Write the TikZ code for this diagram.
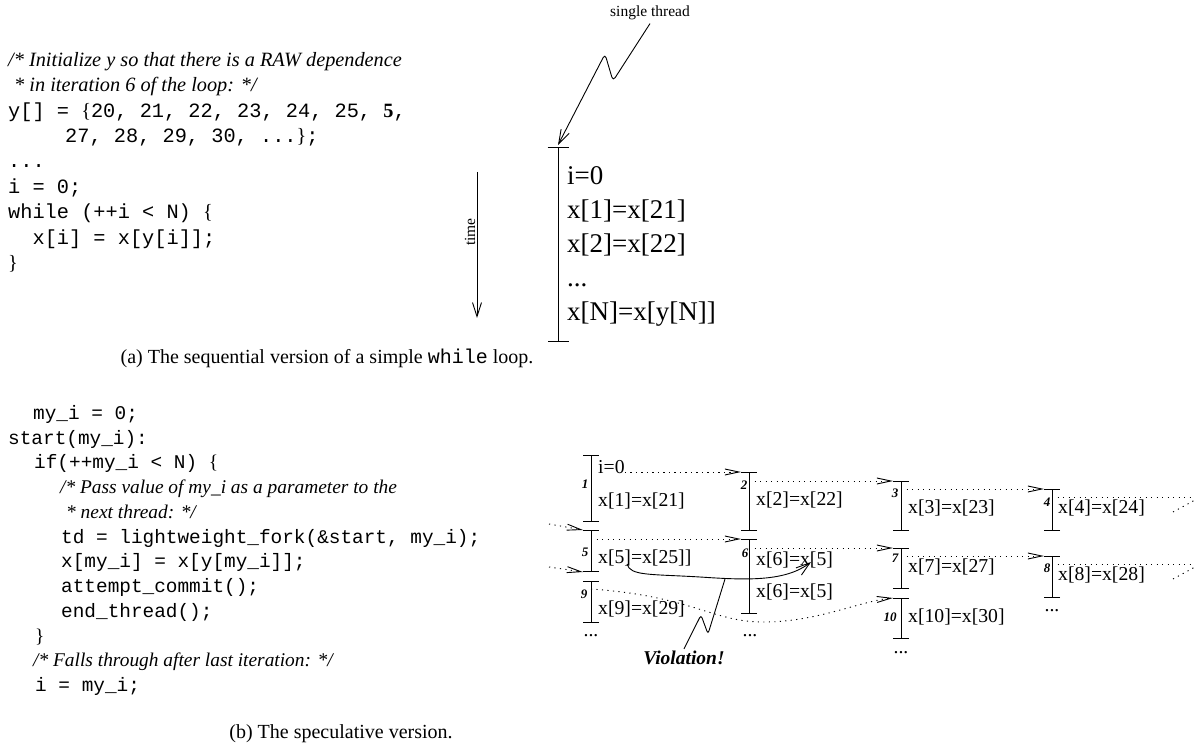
\documentclass[tikz,border=0pt]{standalone}
\usepackage{fontspec}
\setmainfont{Liberation Serif}
\setmonofont{Liberation Mono}
\usetikzlibrary{positioning,calc,arrows.meta}

\newcommand\tightlines{\lineskiplimit-30pt\relax}
\newcommand\lbr{{\rmfamily\{}}
\newcommand\rbr{{\rmfamily\}}}

\tikzset{
	codeA/.style={inner sep=0pt, anchor=north west, align=left,
		font=\fontsize{20.3}{25.4}\selectfont\tightlines},
	codeB/.style={inner sep=0pt, anchor=north west, align=left,
		font=\fontsize{19.4}{24.75}\selectfont\tightlines},
	capt/.style={inner sep=0pt, font=\fontsize{20}{24}\selectfont},
	smalllab/.style={font=\fontsize{15.5}{18}\selectfont},
	bigbar/.style={line width=0.9pt, {Bar[width=21pt]}-{Bar[width=21pt]}},
	bar/.style={line width=0.9pt, {Bar[width=16pt]}-{Bar[width=16pt]}},
	bigstmt/.style={inner sep=0pt, anchor=north west, align=left,
		font=\fontsize{27}{34.2}\selectfont\tightlines},
	stmt/.style={inner sep=0pt, anchor=west, font=\fontsize{19.7}{22}\selectfont},
	tnum/.style={inner sep=0pt, font=\fontsize{13}{13}\selectfont\bfseries\itshape},
	fork/.style={line width=0.9pt, dash pattern=on 1.2pt off 4.3pt,
		-{Straight Barb[length=14pt,width=6pt]}},
	forkend/.style={line width=0.9pt, dash pattern=on 1.2pt off 4.3pt},
	openarrow/.style={line width=0.9pt, -{Straight Barb[length=14pt,width=9pt]}},
	violab/.style={inner sep=2pt, font=\fontsize{19.5}{22}\selectfont\bfseries\itshape},
}

\begin{document}
\begin{tikzpicture}[x=1pt,y=-1pt]
	\useasboundingbox (0,0) rectangle (1195,746);

	% (a) sequential loop
	\node[codeA] (seqcode) at (8,52) {%
		{\itshape /* Initialize y so that there is a RAW dependence}\\
		{\itshape\hspace*{6pt}* in iteration 6 of the loop: */}\\
		{\ttfamily y[] = \lbr20, 21, 22, 23, 24, 25, {\rmfamily\bfseries 5},}\\
		{\ttfamily\hspace*{57pt}27, 28, 29, 30, ...\rbr;}\\
		{\ttfamily ...}\\
		{\ttfamily i = 0;}\\
		{\ttfamily while (++i < N) \lbr}\\
		{\ttfamily\hspace*{24.4pt}x[i] = x[y[i]];}\\
		{\ttfamily \rbr}
	};

	\coordinate (timetop) at (477,172);
	\coordinate (timebot) at (477,318);
	\draw[openarrow] (timetop) -- (timebot);
	\node[smalllab, rotate=90] (timelab) at (470,232) {time};

	\node[smalllab] (sthread) at (650,13) {single thread};
	\coordinate (st1) at (558,147);
	\coordinate (st2) at (558,342);
	\draw[bigbar] (st1) -- (st2);
	\draw[openarrow, rounded corners=4pt] (sthread.south) -- (613,81) -- (605,54) -- ($(st1)+(0,-2)$);
	\node[bigstmt] (seqsteps) at (567,166) {i=0\\ x[1]=x[21]\\ x[2]=x[22]\\ ...\\ x[N]=x[y[N]]};

	\node[capt] (capa) at (327,358) {(a) The sequential version of a simple \texttt{while} loop.};

	% (b) speculative loop
	\node[codeB] (speccode) at (8,405) {%
		{\ttfamily\hspace*{25pt}my\_i = 0;}\\
		{\ttfamily start(my\_i):}\\
		{\ttfamily\hspace*{26pt}if(++my\_i < N) \lbr}\\
		{\itshape\hspace*{52pt}/* Pass value of my\_i as a parameter to the}\\
		{\itshape\hspace*{58pt}* next thread: */}\\
		{\ttfamily\hspace*{53pt}td = lightweight\_fork(\&start, my\_i);}\\
		{\ttfamily\hspace*{53pt}x[my\_i] = x[y[my\_i]];}\\
		{\ttfamily\hspace*{53pt}attempt\_commit();}\\
		{\ttfamily\hspace*{53pt}end\_thread();}\\
		{\ttfamily\hspace*{27pt}\rbr}\\
		{\itshape\hspace*{25pt}/* Falls through after last iteration: */}\\
		{\ttfamily\hspace*{27pt}i = my\_i;}
	};

	\node[capt] (capb) at (341,734) {(b) The speculative version.};

	% threads
	\coordinate (t1) at (591,455);  \coordinate (b1) at (591,522);
	\coordinate (t2) at (749,472);  \coordinate (b2) at (749,531);
	\coordinate (t3) at (901,481);  \coordinate (b3) at (901,531);
	\coordinate (t4) at (1052,489); \coordinate (b4) at (1052,531);
	\coordinate (t5) at (591,530);  \coordinate (b5) at (591,572);
	\coordinate (t6) at (749,539);  \coordinate (b6) at (749,614);
	\coordinate (t7) at (901,548);  \coordinate (b7) at (901,589);
	\coordinate (t8) at (1052,556); \coordinate (b8) at (1052,598);
	\coordinate (t9) at (591,581);  \coordinate (b9) at (591,623);
	\coordinate (t10) at (901,598); \coordinate (b10) at (901,639);

	\draw[bar] (t1) -- (b1);
	\draw[bar] (t2) -- (b2);
	\draw[bar] (t3) -- (b3);
	\draw[bar] (t4) -- (b4);
	\draw[bar] (t5) -- (b5);
	\draw[bar] (t6) -- (b6);
	\draw[bar] (t7) -- (b7);
	\draw[bar] (t8) -- (b8);
	\draw[bar] (t9) -- (b9);
	\draw[bar] (t10) -- (b10);

	\node[tnum] (n1) at (585,484) {1};
	\node[tnum] (n2) at (744,485) {2};
	\node[tnum] (n3) at (895,493) {3};
	\node[tnum] (n4) at (1047,502) {4};
	\node[tnum] (n5) at (585,552) {5};
	\node[tnum] (n6) at (745,553) {6};
	\node[tnum] (n7) at (895,558) {7};
	\node[tnum] (n8) at (1047,568) {8};
	\node[tnum] (n9) at (584,594) {9};
	\node[tnum] (n10) at (890,617) {10};

	\node[stmt] (s1a) at (598,467) {i=0};
	\node[stmt] (s1b) at (598,501) {x[1]=x[21]};
	\node[stmt] (s2) at (756,500) {x[2]=x[22]};
	\node[stmt] (s3) at (908,508) {x[3]=x[23]};
	\node[stmt] (s4) at (1058,508) {x[4]=x[24]};
	\node[stmt] (s5) at (598,558) {x[5]=x[25]]};
	\node[stmt] (s6a) at (756,560) {x[6]=x[5]};
	\node[stmt] (s6b) at (756,592) {x[6]=x[5]};
	\node[stmt] (s7) at (908,567) {x[7]=x[27]};
	\node[stmt] (s8) at (1058,575) {x[8]=x[28]};
	\node[stmt] (s9) at (598,609) {x[9]=x[29]};
	\node[stmt] (s10) at (908,617) {x[10]=x[30]};

	\node[stmt, anchor=center] (d1) at (591,636) {...};
	\node[stmt, anchor=center] (d6) at (750,636) {...};
	\node[stmt, anchor=center] (d8) at (1052,611) {...};
	\node[stmt, anchor=center] (d10) at (901,653) {...};

	% forks
	\coordinate (out4) at (1195,497);
	\coordinate (out8) at (1195,564);
	\coordinate (in5) at (549,524);
	\coordinate (in9) at (549,567);
	\coordinate (f9) at (591,589);
	\draw[fork] (s1a.east |- t2) -- ($(t2)+(-8,0)$);
	\draw[fork] (t2 |- t3) -- ($(t3)+(-8,0)$);
	\draw[fork] (t3 |- t4) -- ($(t4)+(-8,0)$);
	\draw[forkend] (t4 |- out4) -- (out4);
	\draw[forkend] (1173,512) -- (1195,500);
	\draw[fork] (in5) -- ($(t5)+(-8,0)$);
	\draw[fork] (t5 |- t6) -- ($(t6)+(-8,0)$);
	\draw[fork] (t6 |- t7) -- ($(t7)+(-8,0)$);
	\draw[fork] (t7 |- t8) -- ($(t8)+(-8,0)$);
	\draw[forkend] (t8 |- out8) -- (out8);
	\draw[forkend] (1173,579) -- (1195,567);
	\draw[fork] (in9) -- ($(b5)+(-8,0)$);
	\draw[fork] (f9) .. controls (690,596) and (712,621) .. (760,622) .. controls (815,623) and (860,601) .. ($(t10)+(-8,0)$);

	% violation
	\coordinate (viosrc) at (627,564);
	\coordinate (viodst) at (811,562);
	\coordinate (viohit) at (725,579);
	\draw[openarrow] (viosrc) .. controls (630,576) and (650,574) .. (700,577) .. controls (745,580) and (785,582) .. (viodst);
	\node[violab] (viol) at (684,658) {Violation!};
	\draw[line width=0.9pt, rounded corners=3pt] (viohit) -- (708,634) -- (701,615) -- (viol.north);
\end{tikzpicture}
\end{document}
